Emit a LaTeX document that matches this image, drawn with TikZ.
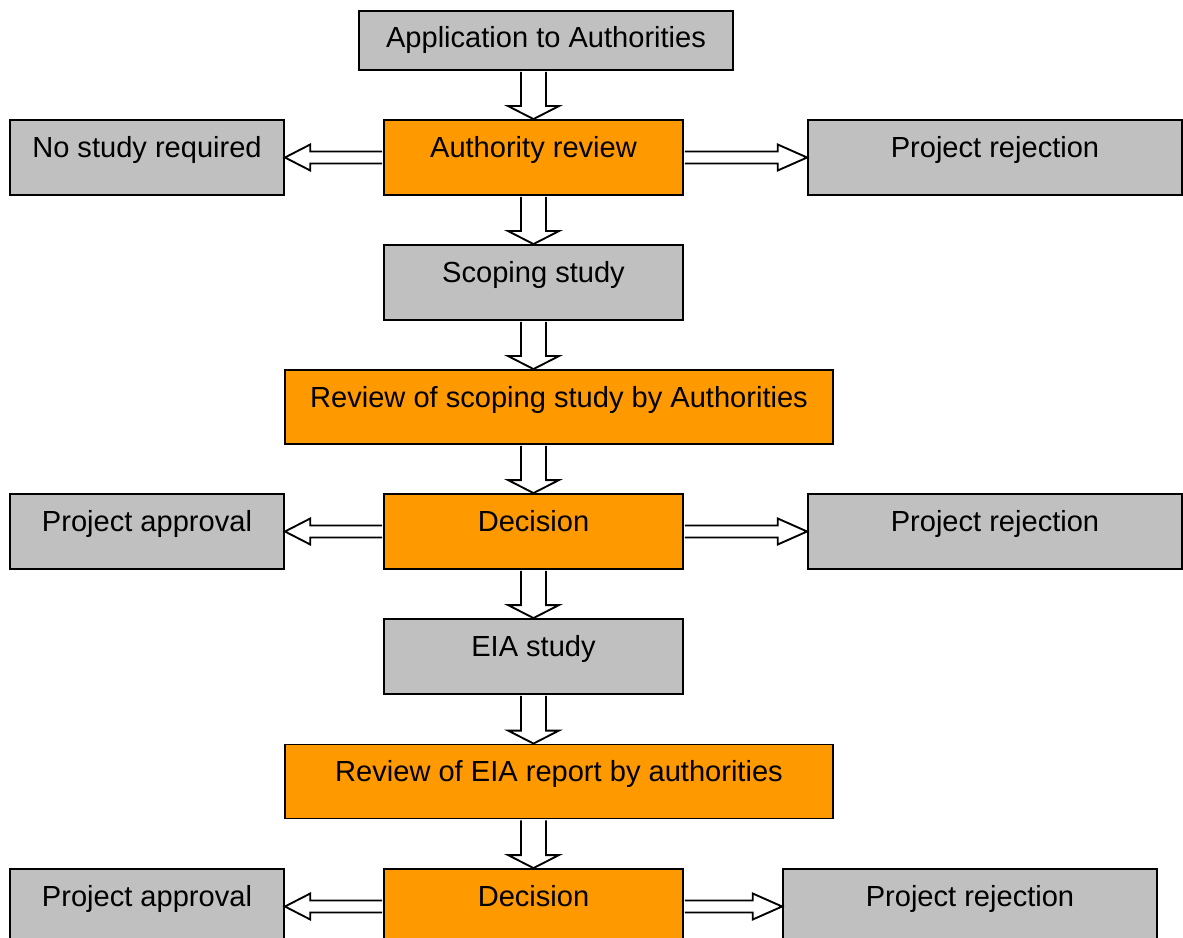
\documentclass[tikz,border=0pt]{standalone}
\usepackage{fontspec}
\setmainfont{Liberation Sans}
\usetikzlibrary{calc}
\definecolor{boxgray}{HTML}{C0C0C0}
\definecolor{boxorange}{HTML}{FF9900}
\tikzset{
 base/.style={draw=black, line width=1.4pt, rectangle, font=\fontsize{21.8pt}{26pt}\selectfont, inner sep=0pt, text height=15pt, text depth=15pt},
 graybox/.style={base, fill=boxgray},
 orangebox/.style={base, fill=boxorange},
 sidebox/.style={minimum width=205.5pt, minimum height=56.25pt},
 midbox/.style={minimum width=224.25pt, minimum height=56.25pt},
 widebox/.style={minimum width=280.5pt, minimum height=56.25pt},
 hugebox/.style={minimum width=411pt, minimum height=55.5pt},
 blockarrow/.style={draw=black, line width=1.4pt, fill=white, line join=miter},
}
% #1 = upper node, #2 = lower node, #3 = node whose centre gives the arrow's x
\newcommand\blockdown[3]{%
 \draw[blockarrow] let \p1=(#1.south), \p2=(#2.north), \p3=(#3.center) in
 (\x3-9.4pt,\y1-0.7pt) -- (\x3-9.4pt,\y2+9.75pt) -- (\x3-19.1pt,\y2+9.75pt) -- (\x3,\y2) -- (\x3+19.1pt,\y2+9.75pt) -- (\x3+9.4pt,\y2+9.75pt) -- (\x3+9.4pt,\y1-0.7pt);}
\newcommand\blockleft[2]{%
 \draw[blockarrow] let \p1=(#1.west), \p2=(#2.east) in
 (\x1-0.7pt,\y1+4.5pt) -- (\x2+19pt,\y1+4.5pt) -- (\x2+19pt,\y1+9.75pt) -- (\x2,\y1) -- (\x2+19pt,\y1-9.75pt) -- (\x2+19pt,\y1-4.5pt) -- (\x1-0.7pt,\y1-4.5pt);}
\newcommand\blockright[2]{%
 \draw[blockarrow] let \p1=(#1.east), \p2=(#2.west) in
 (\x1+0.7pt,\y1+4.5pt) -- (\x2-22pt,\y1+4.5pt) -- (\x2-22pt,\y1+9.75pt) -- (\x2,\y1) -- (\x2-22pt,\y1-9.75pt) -- (\x2-22pt,\y1-4.5pt) -- (\x1+0.7pt,\y1-4.5pt);}
\begin{document}
\begin{tikzpicture}[x=0.75pt,y=-0.75pt]
\useasboundingbox (0,0) rectangle (1183,938);
\clip (0,0) rectangle (1183,938);
\fill[white] (0,0) rectangle (1183,938);
\node[graybox, widebox, minimum height=44.25pt, text height=16pt, text depth=5pt] (app) at (546,40.5) {Application to Authorities};
\node[orangebox, midbox] (auth) at (533.5,157.5) {Authority review};
\node[graybox, sidebox] (nostudy) at (147,157.5) {No study required};
\node[graybox, widebox] (rej1) at (995,157.5) {Project rejection};
\node[graybox, midbox] (scoping) at (533.5,282.5) {Scoping study};
\node[orangebox, hugebox] (revscope) at (559,407) {Review of scoping study by Authorities};
\node[graybox, sidebox] (appr2) at (147,531.5) {Project approval};
\node[orangebox, midbox] (dec2) at (533.5,531.5) {Decision};
\node[graybox, widebox] (rej2) at (995,531.5) {Project rejection};
\node[graybox, midbox] (eia) at (533.5,656.5) {EIA study};
\node[orangebox, hugebox] (reveia) at (559,781.5) {Review of EIA report by authorities};
\node[graybox, sidebox] (appr3) at (147,906.5) {Project approval};
\node[orangebox, midbox] (dec3) at (533.5,906.5) {Decision};
\node[graybox, widebox] (rej3) at (970,906.5) {Project rejection};
\blockdown{app}{auth}{auth}
\blockdown{auth}{scoping}{scoping}
\blockdown{scoping}{revscope}{scoping}
\blockdown{revscope}{dec2}{dec2}
\blockdown{dec2}{eia}{eia}
\blockdown{eia}{reveia}{eia}
\blockdown{reveia}{dec3}{dec3}
\blockleft{auth}{nostudy}
\blockright{auth}{rej1}
\blockleft{dec2}{appr2}
\blockright{dec2}{rej2}
\blockleft{dec3}{appr3}
\blockright{dec3}{rej3}
\end{tikzpicture}
\end{document}
